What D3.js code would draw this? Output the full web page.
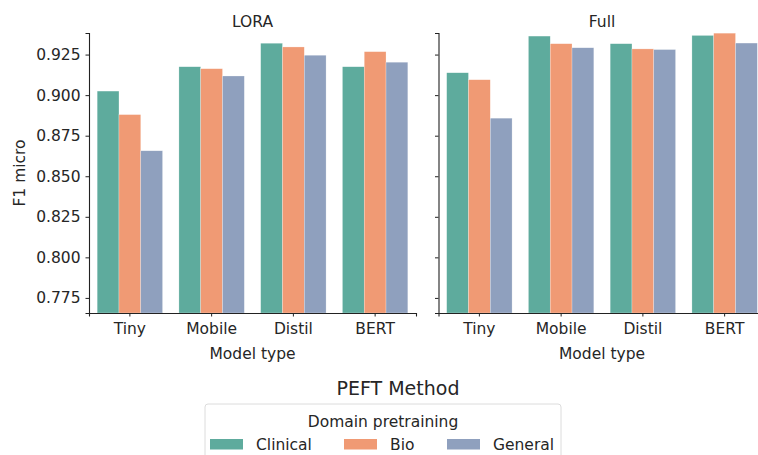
<!DOCTYPE html>
<html>
<head>
<meta charset="utf-8">
<script src="https://cdn.jsdelivr.net/npm/d3@7"></script>
<style>
  html, body { margin: 0; padding: 0; background: #fff; }
  svg { display: block; }
  svg text { font-family: "DejaVu Sans", sans-serif; fill: #262626; }
</style>
</head>
<body>
<svg id="chart" width="758" height="455"></svg>
<script>
// Grouped bars: F1 micro by model type and domain pretraining, one panel per PEFT method
const methods = ["LORA", "Full"];
const modelTypes = ["Tiny", "Mobile", "Distil", "BERT"];
const domains = ["Clinical", "Bio", "General"];
const domainColors = ["#5eab9d", "#f09a74", "#8fa0be"];

// values per model type, ordered Clinical, Bio, General
const loraValues = [
  [0.9025, 0.8880, 0.8657],
  [0.9175, 0.9163, 0.9118],
  [0.9320, 0.9297, 0.9246],
  [0.9175, 0.9268, 0.9203]
];
const fullValues = [
  [0.9138, 0.9095, 0.8858],
  [0.9364, 0.9317, 0.9292],
  [0.9317, 0.9285, 0.9281],
  [0.9368, 0.9382, 0.9321]
];
const yTicks = [0.775, 0.800, 0.825, 0.850, 0.875, 0.900, 0.925];
const yDomain = [0.7657, 0.9383];

const panelValues = [loraValues, fullValues];

const svg = d3.select("#chart");
const plotTop = 33, plotBottom = 313;
const panelLeft = [89, 438.5];
const panelWidth = 327;
const fontSize = "15.5px";

const y = d3.scaleLinear().domain(yDomain).range([plotBottom, plotTop]);
const color = d3.scaleOrdinal().domain(domains).range(domainColors);

methods.forEach((method, pi) => {
  const left = panelLeft[pi];
  const g = svg.append("g");

  const x = d3.scaleBand().domain(modelTypes)
    .range([left, left + panelWidth]).paddingInner(0.2).paddingOuter(0.1);
  const xInner = d3.scaleBand().domain(domains).range([0, x.bandwidth()]);

  const groups = g.selectAll("g.group")
    .data(modelTypes.map((m, i) => ({ m, vals: panelValues[pi][i] })))
    .join("g")
    .attr("class", "group")
    .attr("transform", d => `translate(${x(d.m)},0)`);

  groups.selectAll("rect")
    .data(d => d.vals.map((v, k) => ({ domain: domains[k], v })))
    .join("rect")
    .attr("x", d => xInner(d.domain))
    .attr("width", xInner.bandwidth())
    .attr("y", d => y(d.v))
    .attr("height", d => plotBottom - y(d.v))
    .attr("fill", d => color(d.domain))
    .attr("stroke", "#ffffff")
    .attr("stroke-opacity", 0.5)
    .attr("stroke-width", 0.5);

  // axes
  const yAxis = d3.axisLeft(y).tickValues(yTicks).tickSizeOuter(0).tickSize(3.5).tickPadding(5)
    .tickFormat(pi === 0 ? d3.format(".3f") : () => "");
  const ya = g.append("g").attr("transform", `translate(${left},0)`).call(yAxis);

  const xAxis = d3.axisBottom(x).tickSizeOuter(0).tickSize(3.5).tickPadding(6);
  const xa = g.append("g").attr("transform", `translate(0,${plotBottom})`).call(xAxis);

  [ya, xa].forEach(a => {
    a.attr("font-family", null).attr("font-size", null);
    a.select(".domain").attr("stroke", "#222").attr("stroke-width", 1.1);
    a.selectAll(".tick line").attr("stroke", "#222").attr("stroke-width", 1);
    a.selectAll(".tick text").attr("fill", "#262626").style("font-size", fontSize);
  });

  g.append("text")
    .attr("x", left + panelWidth / 2).attr("y", 27)
    .attr("text-anchor", "middle")
    .style("font-size", fontSize).text(method);

  g.append("text")
    .attr("x", left + panelWidth / 2).attr("y", 359)
    .attr("text-anchor", "middle")
    .style("font-size", fontSize).text("Model type");
});

svg.append("text")
  .attr("transform", `translate(25,${(plotTop + plotBottom) / 2}) rotate(-90)`)
  .attr("text-anchor", "middle")
  .style("font-size", fontSize).text("F1 micro");

svg.append("text")
  .attr("x", 398).attr("y", 395)
  .attr("text-anchor", "middle")
  .style("font-size", "19px").text("PEFT Method");

// legend
const legend = svg.append("g");
legend.append("rect")
  .attr("x", 205).attr("y", 404).attr("width", 356).attr("height", 70)
  .attr("rx", 3).attr("fill", "#fff").attr("stroke", "#dcdcdc").attr("stroke-width", 1);
legend.append("text")
  .attr("x", 383).attr("y", 427)
  .attr("text-anchor", "middle")
  .style("font-size", fontSize).text("Domain pretraining");

const legendX = [210, 344, 447];
const items = legend.selectAll("g.item").data(domains).join("g")
  .attr("class", "item")
  .attr("transform", (d, i) => `translate(${legendX[i]},439)`);
items.append("rect").attr("width", 33).attr("height", 10.5).attr("fill", d => color(d));
items.append("text").attr("x", 46).attr("y", 11)
  .style("font-size", fontSize).text(d => d);
</script>
</body>
</html>
